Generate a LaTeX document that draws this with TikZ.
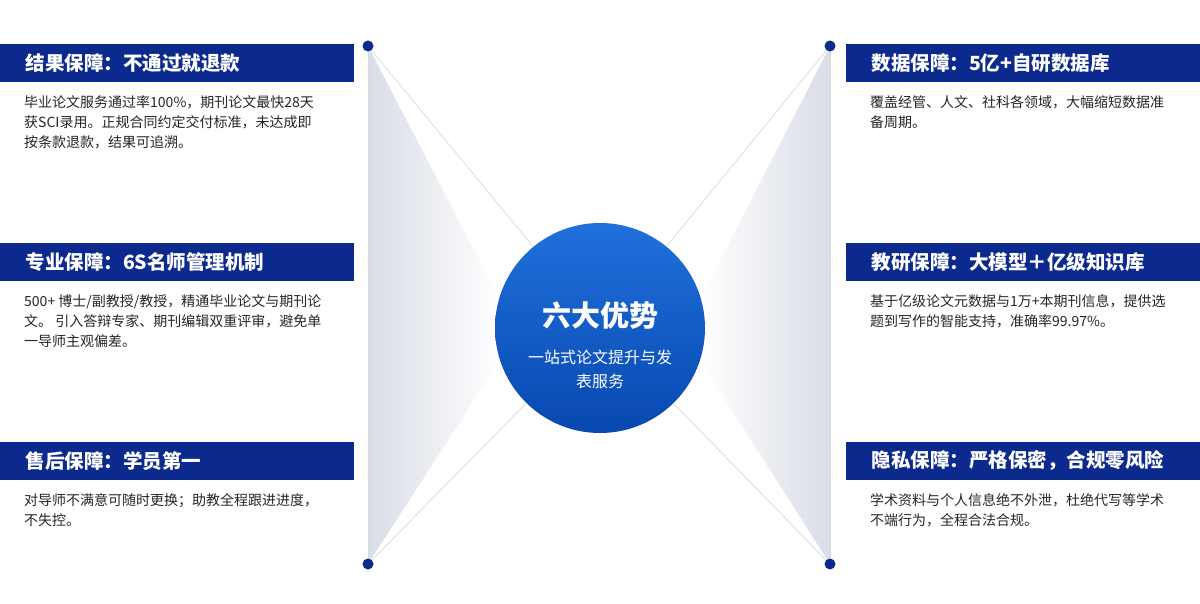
\documentclass[tikz,border=0pt]{standalone}
\usepackage{fontspec}
\setmainfont{Noto Sans CJK SC}
\begin{document}
\begin{tikzpicture}[x=1pt,y=-1pt,
  hdr/.style={fill=hdrblue,minimum width=354pt,minimum height=38pt,inner sep=0pt},
  hdrtxt/.style={text=white,font=\fontsize{19.5}{22}\selectfont\bfseries,anchor=west},
  body/.style={anchor=north west,align=left,font=\fontsize{14}{20}\selectfont,text=black!85,inner sep=0pt},
  dot/.style={circle,fill=hdrblue,minimum size=11pt,inner sep=0pt},
  thin/.style={draw=gray!30,line width=0.7pt}]
\definecolor{hdrblue}{HTML}{0C2A8E}
\definecolor{cTop}{HTML}{2070DC}
\definecolor{cBot}{HTML}{0848B0}
\definecolor{tri}{HTML}{D9DDE6}
\useasboundingbox[fill=white] (0,0) rectangle (1200,604);
% triangles
\shade[left color=tri,right color=white] (368,46) -- (500,300) -- (500,360) -- (368,564) -- cycle;
\shade[right color=tri,left color=white] (830,46) -- (700,300) -- (700,360) -- (830,564) -- cycle;
\coordinate (c) at (600,328);
\node[dot] (d1) at (368,46) {};
\node[dot] (d2) at (368,564) {};
\node[dot] (d3) at (830,46) {};
\node[dot] (d4) at (830,564) {};
\draw[thin] (d1) -- (c); \draw[thin] (d2) -- (c);
\draw[thin] (d3) -- (c); \draw[thin] (d4) -- (c);
\draw[thin] (d1) -- (d2); \draw[thin] (d3) -- (d4);
\shade[top color=cTop,bottom color=cBot] (c) circle (105);
\node[text=white,font=\fontsize{29}{32}\selectfont\bfseries] (t) at (600,316) {六大优势};
\node[text=white,align=center,font=\fontsize{16}{24}\selectfont] (s) at (600,369) {一站式论文提升与发\\表服务};
% left headers
\node[hdr,anchor=north west] (h1) at (0,44) {};
\node[hdrtxt] at (22,63) {结果保障：不通过就退款};
\node[body] (b1) at (24,95) {毕业论文服务通过率100\%，期刊论文最快28天\\获SCI录用。正规合同约定交付标准，未达成即\\按条款退款，结果可追溯。};
\node[hdr,anchor=north west] (h2) at (0,243) {};
\node[hdrtxt] at (22,262) {专业保障：6S名师管理机制};
\node[body] (b2) at (24,294) {500+ 博士/副教授/教授，精通毕业论文与期刊论\\文。 引入答辩专家、期刊编辑双重评审，避免单\\一导师主观偏差。};
\node[hdr,anchor=north west] (h3) at (0,442) {};
\node[hdrtxt] at (22,461) {售后保障：学员第一};
\node[body] (b3) at (24,493) {对导师不满意可随时更换；助教全程跟进进度，\\不失控。};
% right headers
\node[hdr,anchor=north west] (h4) at (846,44) {};
\node[hdrtxt] at (868,63) {数据保障：5亿+自研数据库};
\node[body] (b4) at (870,95) {覆盖经管、人文、社科各领域，大幅缩短数据准\\备周期。};
\node[hdr,anchor=north west] (h5) at (846,243) {};
\node[hdrtxt] at (868,262) {教研保障：大模型＋亿级知识库};
\node[body] (b5) at (870,294) {基于亿级论文元数据与1万+本期刊信息，提供选\\题到写作的智能支持，准确率99.97\%。};
\node[hdr,anchor=north west] (h6) at (846,442) {};
\node[hdrtxt] at (868,461) {隐私保障：严格保密，合规零风险};
\node[body] (b6) at (870,493) {学术资料与个人信息绝不外泄，杜绝代写等学术\\不端行为，全程合法合规。};
\end{tikzpicture}
\end{document}
